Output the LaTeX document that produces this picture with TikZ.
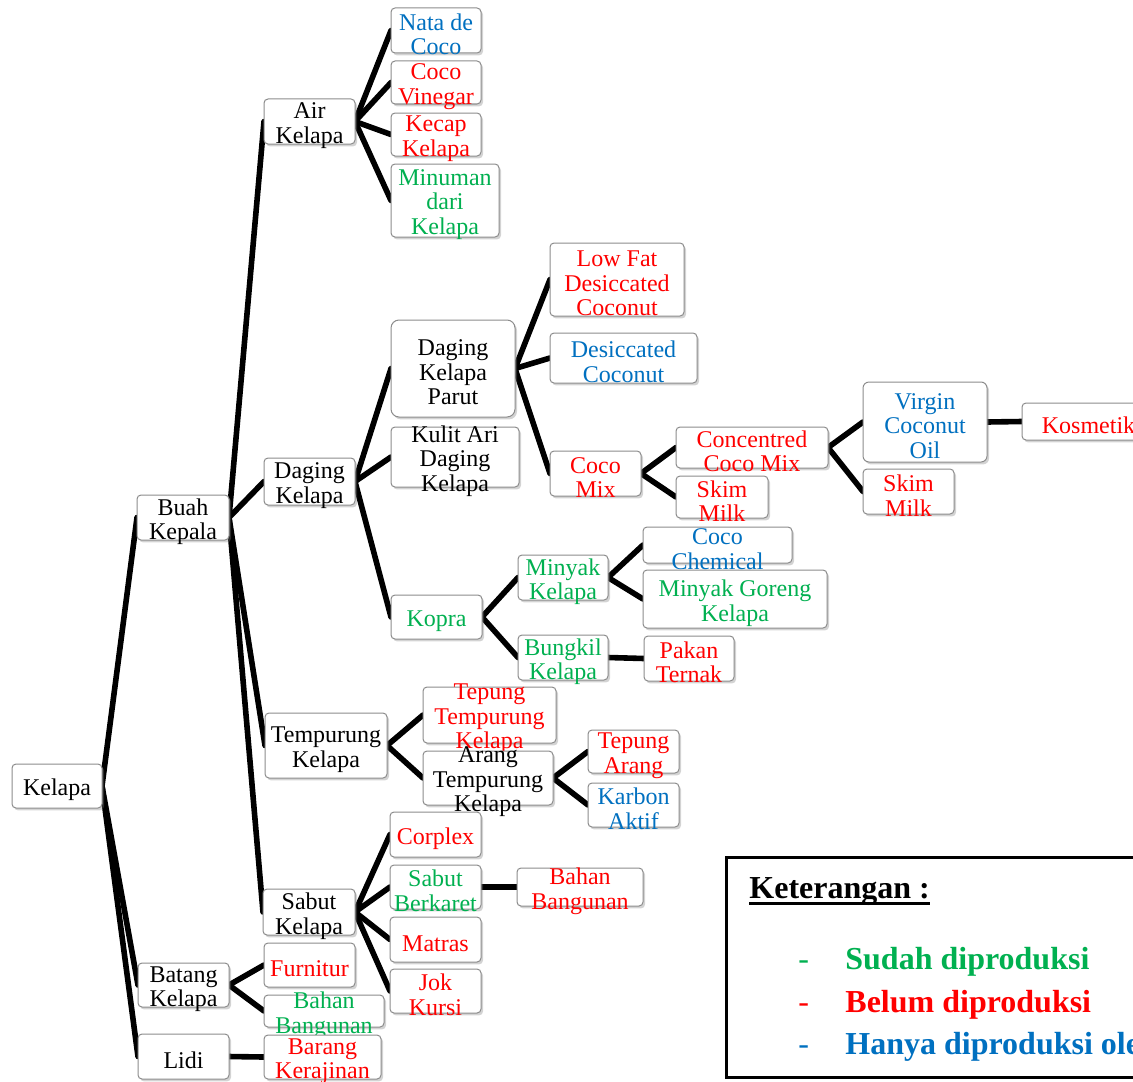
\documentclass[tikz,border=0pt]{standalone}
\usepackage{fontspec}
\setmainfont{Liberation Serif}
\usetikzlibrary{fit,shadows,backgrounds}
\definecolor{cgreen}{HTML}{00B050}
\definecolor{cred}{HTML}{FF0000}
\definecolor{cblue}{HTML}{0070C0}
\tikzset{
  boxst/.style={draw=black!45, line width=0.5pt, fill=white, rounded corners=2pt,
    inner sep=0pt, outer sep=0pt,
    drop shadow={opacity=0.35, shadow xshift=1pt, shadow yshift=-1.2pt}},
  txtst/.style={inner sep=0pt, align=center, yshift=-2pt, font=\fontsize{12}{12.25}\selectfont},
  conn/.style={line width=2.8pt, line cap=round},
  legst/.style={anchor=base west, inner sep=0pt, font=\fontsize{16}{19}\selectfont},
}
\newcommand\bx[6][]{%
  \node[boxst,#1,fit={(#3) (#4)}] (#2) {};%
  \node[txtst,text=#5] (#2-t) at (#2.center) {#6};}
\begin{document}
\begin{tikzpicture}[x=0.5pt,y=-0.5pt]
\useasboundingbox (0,0) rectangle (1133,1081);
\clip (0,0) rectangle (1133,1081);
% boxes
\bx{kelapa}{12,764}{102,808}{black}{Kelapa}
\bx{buah}{137,495}{229,540}{black}{Buah\\Kepala}
\bx{air}{264,99}{355,144}{black}{Air\\Kelapa}
\bx{nata}{391,8}{481,53}{cblue}{Nata de\\Coco}
\bx{vinegar}{391,61}{481,104}{cred}{Coco\\Vinegar}
\bx{kecap}{391,113}{481,156}{cred}{Kecap\\Kelapa}
\bx{minuman}{391,164}{499,237}{cgreen}{Minuman\\dari\\Kelapa}
\bx{daging}{264,458}{355,505}{black}{Daging\\Kelapa}
\bx[rounded corners=4pt]{parut}{391,320}{515,417}{black}{Daging\\Kelapa\\Parut}
\bx{kulit}{391,427}{519,487}{black}{Kulit Ari\\Daging\\Kelapa}
\bx{kopra}{391,595}{482,639}{cgreen}{Kopra}
\bx{lowfat}{550,243}{684,316}{cred}{Low Fat\\Desiccated\\Coconut}
\bx{desic}{550,333}{697,383}{cblue}{Desiccated\\Coconut}
\bx{cocomix}{550,451}{641,496}{cred}{Coco\\Mix}
\bx{concentred}{676,427}{828,468}{cred}{Concentred\\Coco Mix}
\bx{skima}{676,476}{768,518}{cred}{Skim\\Milk}
\bx[rounded corners=3pt]{vco}{863,382}{987,462}{cblue}{Virgin\\Coconut\\Oil}
\bx{skimb}{863,469}{954,514}{cred}{Skim\\Milk}
\bx{kosmetik}{1022,403}{1155,440}{cred}{Kosmetik}
\bx{minyak}{518,555}{608,600}{cgreen}{Minyak\\Kelapa}
\bx{bungkil}{518,635}{608,680}{cgreen}{Bungkil\\Kelapa}
\bx{cocochem}{643,527}{792,563}{cblue}{Coco\\Chemical}
\bx{goreng}{643,570}{827,628}{cgreen}{Minyak Goreng\\Kelapa}
\bx{pakan}{644,636}{734,681}{cred}{Pakan\\Ternak}
\bx{tempurung}{265,713}{387,778}{black}{Tempurung\\Kelapa}
\bx{tepungtemp}{423,687}{556,743}{cred}{Tepung\\Tempurung\\Kelapa}
\bx{arang}{423,751}{553,805}{black}{Arang\\Tempurung\\Kelapa}
\bx{tepungarang}{588,730}{679,773}{cred}{Tepung\\Arang}
\bx{karbon}{588,783}{679,827}{cblue}{Karbon\\Aktif}
\bx{sabut}{263,889}{355,935}{black}{Sabut\\Kelapa}
\bx{corplex}{390,812}{481,857}{cred}{Corplex}
\bx{berkaret}{390,865}{481,909}{cgreen}{Sabut\\Berkaret}
\bx{bahana}{517,868}{643,906}{cred}{Bahan\\Bangunan}
\bx{matras}{390,917}{481,962}{cred}{Matras}
\bx{jok}{390,969}{481,1013}{cred}{Jok\\Kursi}
\bx{batang}{138,963}{229,1007}{black}{Batang\\Kelapa}
\bx{furnitur}{264,943}{355,987}{cred}{Furnitur}
\bx{bahanb}{264,995}{384,1027}{cgreen}{Bahan\\Bangunan}
\bx{lidi}{138,1034}{229,1079}{black}{Lidi}
\bx{barang}{264,1035}{381,1079}{cred}{Barang\\Kerajinan}
% connectors
\begin{scope}[on background layer]
\foreach \a/\b in {kelapa/buah,kelapa/batang,kelapa/lidi,
  buah/air,buah/daging,buah/tempurung,buah/sabut,
  air/nata,air/vinegar,air/kecap,air/minuman,
  daging/parut,daging/kulit,daging/kopra,
  parut/lowfat,parut/desic,parut/cocomix,
  cocomix/concentred,cocomix/skima,
  concentred/vco,concentred/skimb,vco/kosmetik,
  kopra/minyak,kopra/bungkil,minyak/cocochem,minyak/goreng,bungkil/pakan,
  tempurung/tepungtemp,tempurung/arang,arang/tepungarang,arang/karbon,
  sabut/corplex,sabut/berkaret,sabut/matras,sabut/jok,berkaret/bahana,
  batang/furnitur,batang/bahanb,lidi/barang}
  \draw[conn] (\a.east) -- (\b.west);
\end{scope}
% legend
\node[draw=black, line width=1.5pt, inner sep=0pt, fit={(726,857) (1200,1077)}] (leg) {};
\node[legst, font=\fontsize{16}{19}\selectfont\bfseries] (kt) at (749,898) {Keterangan :};
\draw[line width=1.4pt] ([yshift=-2.6pt]kt.base west) -- ([yshift=-2.6pt]kt.base east);
\node[legst, text=cgreen] (da) at (798,969) {-};
\node[legst, text=cred] (db) at (798,1012) {-};
\node[legst, text=cblue] (dc) at (798,1054) {-};
\node[legst, font=\fontsize{16}{19}\selectfont\bfseries, text=cgreen] (la) at (845,969) {Sudah diproduksi};
\node[legst, font=\fontsize{16}{19}\selectfont\bfseries, text=cred] (lb) at (845,1012) {Belum diproduksi};
\node[legst, font=\fontsize{16}{19}\selectfont\bfseries, text=cblue] (lc) at (845,1054) {Hanya diproduksi oleh};
\end{tikzpicture}
\end{document}
